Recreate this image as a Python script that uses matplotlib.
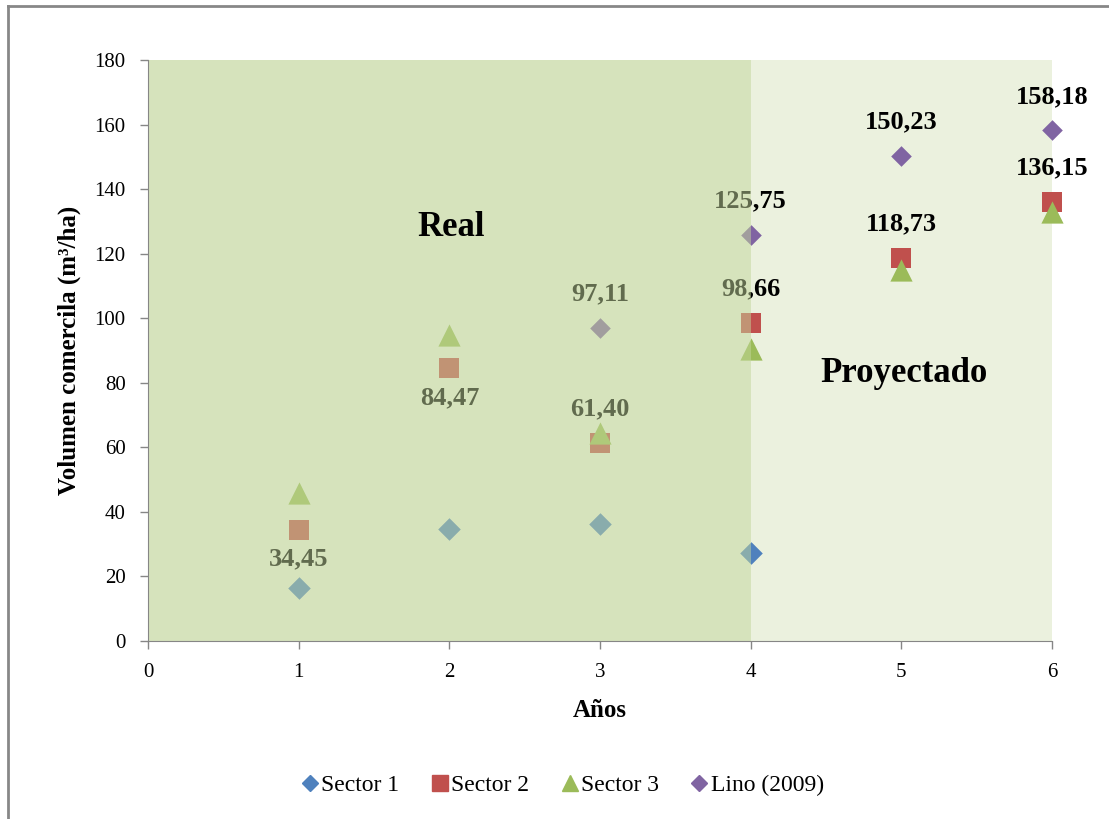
import numpy as np
import matplotlib
matplotlib.use("Agg")
import matplotlib.pyplot as plt
from matplotlib.patches import Rectangle
from matplotlib.lines import Line2D

plt.rcParams['font.family'] = ['Liberation Serif', 'DejaVu Serif']

# datos
anios_s1 = [1, 2, 3, 4]
sector1 = [16.3, 34.7, 36.2, 27.3]

anios_s2 = [1, 2, 3, 4, 5, 6]
sector2 = [34.45, 84.47, 61.40, 98.66, 118.73, 136.15]
etiq_s2 = ["34,45", "84,47", "61,40", "98,66", "118,73", "136,15"]
abajo_s2 = [True, True, False, False, False, False]

anios_s3 = [1, 2, 3, 4, 5, 6]
sector3 = [45.8, 94.8, 64.4, 90.5, 115.0, 133.0]

anios_lino = [3, 4, 5, 6]
lino = [97.11, 125.75, 150.23, 158.18]
etiq_lino = ["97,11", "125,75", "150,23", "158,18"]

azul = '#4F81BD'
rojo = '#C0504D'
verde = '#9BBB59'
morado = '#8064A2'

fig = plt.figure(figsize=(11.09, 8.19), dpi=100)
ax = fig.add_axes([148/1109, 1 - 641/819, (1052-148)/1109, (641-60)/819])
ax.set_facecolor('#EBF1DE')

ax.scatter(anios_s1, sector1, marker='D', s=11.5**2, color=azul, zorder=3,
           linewidths=0, clip_on=False)
ax.scatter(anios_s2, sector2, marker='s', s=15**2, color=rojo, zorder=3,
           linewidths=0, clip_on=False)
ax.scatter(anios_s3, sector3, marker='^', s=16**2, color=verde, zorder=3,
           linewidths=0, clip_on=False)
ax.scatter(anios_lino, lino, marker='D', s=10.5**2, color=morado, zorder=3,
           linewidths=0, clip_on=False)

for x, y, t, ab in zip(anios_s2, sector2, etiq_s2, abajo_s2):
    dy = -21 if ab else 24.5
    ax.annotate(t, (x, y), xytext=(0, dy), textcoords='offset points',
                ha='center', va='center', fontsize=19, fontweight='bold',
                color='black', zorder=4, annotation_clip=False)
for x, y, t in zip(anios_lino, lino, etiq_lino):
    ax.annotate(t, (x, y), xytext=(0, 24.5), textcoords='offset points',
                ha='center', va='center', fontsize=19, fontweight='bold',
                color='black', zorder=4, annotation_clip=False)

# zona "Real" sombreada por encima de los puntos
ax.add_patch(Rectangle((0, 0), 4, 180, facecolor=(195/255, 215/255, 156/255),
                       alpha=0.5, edgecolor='none', zorder=5))

ax.text(2.01, 128, "Real", ha='center', va='center', fontsize=25,
        fontweight='bold', zorder=6)
ax.text(5.02, 83, "Proyectado", ha='center', va='center', fontsize=25,
        fontweight='bold', zorder=6)

ax.set_xlim(0, 6)
ax.set_ylim(0, 180)
ax.set_xticks(range(0, 7))
ax.set_yticks(range(0, 181, 20))
ax.tick_params(direction='out', length=6, width=1, color='#868686',
               labelsize=15, pad=10)
for s in ['top', 'right']:
    ax.spines[s].set_visible(False)
for s in ['left', 'bottom']:
    ax.spines[s].set_color('#868686')
    ax.spines[s].set_zorder(7)

ax.set_xlabel("Años", fontsize=18, fontweight='bold', labelpad=12)
ax.set_ylabel("Volumen comercila (m³/ha)", fontsize=18, fontweight='bold',
              labelpad=10)

handles = [
    Line2D([], [], marker='D', linestyle='none', color=azul, markersize=8),
    Line2D([], [], marker='s', linestyle='none', color=rojo, markersize=11),
    Line2D([], [], marker='^', linestyle='none', color=verde, markersize=12),
    Line2D([], [], marker='D', linestyle='none', color=morado, markersize=8),
]
fig.legend(handles, ["Sector 1", "Sector 2", "Sector 3", "Lino (2009)"],
           loc='center', bbox_to_anchor=(0.507, 1 - 785/819), ncol=4,
           frameon=False, fontsize=17, handlelength=0.8, handletextpad=0.1,
           columnspacing=1.3)

# marco exterior
fig.add_artist(Line2D([8/1109, 8/1109], [0, 1 - 6/819], color='#878787', lw=2))
fig.add_artist(Line2D([8/1109, 1], [1 - 6/819, 1 - 6/819], color='#878787', lw=2))

fig.savefig("out.png", dpi=100)
